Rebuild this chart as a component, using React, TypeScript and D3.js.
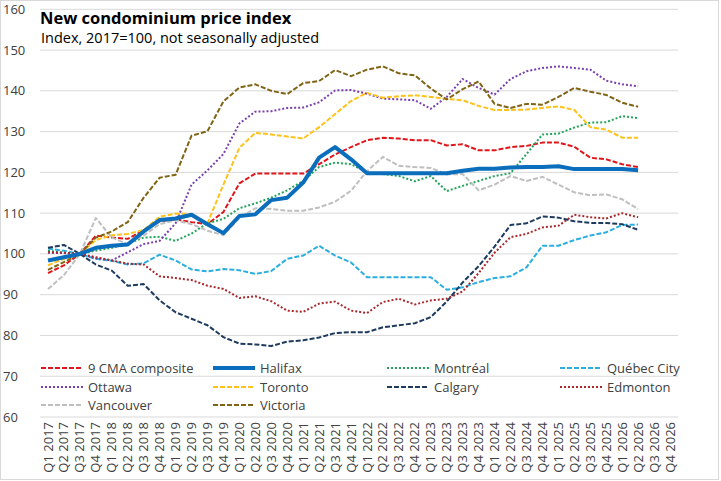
import * as d3 from 'd3';
import { useRef, useEffect } from 'react';

// Quarters on the category axis (data runs to Q2 2026)
const quarters = [
    'Q1 2017', 'Q2 2017', 'Q3 2017', 'Q4 2017',
    'Q1 2018', 'Q2 2018', 'Q3 2018', 'Q4 2018',
    'Q1 2019', 'Q2 2019', 'Q3 2019', 'Q4 2019',
    'Q1 2020', 'Q2 2020', 'Q3 2020', 'Q4 2020',
    'Q1 2021', 'Q2 2021', 'Q3 2021', 'Q4 2021',
    'Q1 2022', 'Q2 2022', 'Q3 2022', 'Q4 2022',
    'Q1 2023', 'Q2 2023', 'Q3 2023', 'Q4 2023',
    'Q1 2024', 'Q2 2024', 'Q3 2024', 'Q4 2024',
    'Q1 2025', 'Q2 2025', 'Q3 2025', 'Q4 2025',
    'Q1 2026', 'Q2 2026', 'Q3 2026', 'Q4 2026',
];

const yTicks = [60, 70, 80, 90, 100, 110, 120, 130, 140, 150, 160];

const composite = [95.3, 97.2, 100, 104.5, 104, 103.7, 105.8, 108, 108.5, 107.8, 107.3, 110.3, 117.3, 119.7, 119.7, 119.7, 119.7, 122, 124.4, 126.2, 127.9, 128.5, 128.3, 127.9, 127.9, 126.6, 126.9, 125.4, 125.4, 126.2, 126.5, 127.3, 127.3, 126.3, 123.6, 123.2, 122, 121.3];
const halifax = [98.4, 99.2, 100, 101.5, 102, 102.3, 105.5, 108.3, 108.7, 109.6, 107.3, 105.1, 109.3, 109.7, 113.2, 113.8, 117.5, 123.6, 126.2, 123.2, 119.8, 119.8, 119.8, 119.8, 119.8, 119.8, 120.4, 120.9, 120.9, 121.2, 121.3, 121.3, 121.5, 120.8, 120.8, 120.8, 120.8, 120.5];
const montreal = [100.8, 100.3, 100, 100.8, 101.5, 102.5, 104, 104.2, 103.2, 105, 107.5, 108.6, 111.2, 112.4, 113.8, 115.6, 117.9, 121.3, 122.4, 122, 120, 119.6, 119.1, 117.8, 119.1, 115.4, 116.7, 117.9, 119.1, 119.8, 124.5, 129.3, 129.5, 131, 132.2, 132.3, 133.8, 133.3];
const quebecCity = [101.3, 100.8, 100, 98.8, 98.3, 97.4, 97.7, 99.8, 98.4, 96.2, 95.7, 96.3, 96, 95.1, 95.8, 98.8, 99.6, 102, 99.6, 97.9, 94.3, 94.3, 94.3, 94.3, 94.3, 91.2, 91.8, 93.1, 94.1, 94.5, 96.7, 102, 102, 103.4, 104.5, 105.3, 107.1, 107.2];
const ottawa = [100.3, 100.2, 100, 98.9, 98.4, 100.4, 102.4, 103.2, 107.5, 117, 120.5, 124.5, 132, 134.9, 135, 135.8, 135.9, 137.2, 140.1, 140.2, 139.3, 138.1, 137.9, 137.7, 135.6, 138.5, 142.9, 140.7, 139.1, 142.9, 144.8, 145.6, 146, 145.6, 145.2, 142.5, 141.6, 141.1];
const toronto = [97.2, 98.8, 100, 103.4, 104.6, 104.9, 105.9, 109.1, 109.9, 109.8, 107.5, 117, 126, 129.7, 129.3, 128.8, 128.3, 131.1, 134.3, 137.5, 139.5, 138.3, 138.7, 138.9, 138.5, 138, 137.7, 136.3, 135.3, 135.3, 135.4, 135.8, 136.2, 135.3, 131.1, 130.5, 128.5, 128.5];
const calgary = [101.5, 102.2, 100, 97.4, 95.9, 92.2, 92.6, 88.6, 85.7, 84.1, 82.5, 79.6, 78, 77.8, 77.4, 78.5, 78.8, 79.5, 80.6, 80.8, 80.8, 82, 82.5, 83, 84.5, 88.3, 93, 97, 101.8, 107.1, 107.5, 109.2, 108.9, 108, 107.6, 107.6, 107.3, 105.9];
const edmonton = [100.4, 100.3, 100, 99.2, 98.4, 97.6, 97.4, 94.5, 94.1, 93.6, 92.2, 91.4, 89.2, 89.6, 88.4, 86.1, 85.8, 87.8, 88.3, 86.1, 85.5, 88.2, 89, 87.6, 88.6, 89, 90.8, 95.3, 100.3, 104.1, 104.9, 106.5, 106.9, 109.6, 109, 108.7, 110, 109];
const vancouver = [91.4, 94.8, 100, 108.8, 104, 102.4, 104.5, 107.3, 108.3, 107.3, 105.7, 104.6, 108.8, 111.2, 111, 110.6, 110.6, 111.4, 112.8, 115.5, 120.3, 123.8, 121.6, 121.3, 121.1, 119.5, 119.6, 115.6, 117, 119.1, 117.9, 118.9, 117, 115.1, 114.4, 114.6, 113.4, 111];
const victoria = [96.1, 98, 100, 104, 105.5, 107.8, 113.8, 118.7, 119.4, 129, 130.1, 137.4, 140.8, 141.6, 140, 139.2, 141.9, 142.4, 145.1, 143.6, 145.2, 146, 144.3, 143.8, 140.6, 137.9, 140.4, 142.3, 136.8, 135.8, 136.8, 136.6, 138.5, 140.7, 139.8, 139, 137.1, 136.1];

const DASH = '5,2';
const DOT = '2,2';

const series = [
    { name: '9 CMA composite', values: composite, color: '#E0161C', width: 2, dash: DASH },
    { name: 'Halifax', values: halifax, color: '#0A6EBD', width: 4, dash: null },
    { name: 'Montréal', values: montreal, color: '#22A35A', width: 2, dash: DOT },
    { name: 'Québec City', values: quebecCity, color: '#2BAEE0', width: 2, dash: DASH },
    { name: 'Ottawa', values: ottawa, color: '#7A3FAE', width: 2, dash: DOT },
    { name: 'Toronto', values: toronto, color: '#FFC21A', width: 2, dash: DASH },
    { name: 'Calgary', values: calgary, color: '#1E3A5F', width: 2, dash: DASH },
    { name: 'Edmonton', values: edmonton, color: '#A8282C', width: 2, dash: DOT },
    { name: 'Vancouver', values: vancouver, color: '#BFBFBF', width: 2, dash: DASH },
    { name: 'Victoria', values: victoria, color: '#806415', width: 2, dash: DASH },
];

const FONT = '"Open Sans", "Liberation Sans", sans-serif';

const CondoChart = () => {
    const svgRef = useRef<SVGSVGElement>(null);

    useEffect(() => {
        if (!svgRef.current) return;
        const svg = d3.select(svgRef.current);
        svg.selectAll('*').remove();

        const x = d3.scaleBand().domain(quarters).range([40, 678]);
        const xc = (q: string) => (x(q) || 0) + x.bandwidth() / 2;
        const y = d3.scaleLinear().domain([60, 160]).range([417, 9.3]);

        // chart frame
        svg.append('rect')
            .attr('x', 0.5).attr('y', 0.5)
            .attr('width', 718).attr('height', 479)
            .attr('fill', '#fff')
            .attr('stroke', '#D9D9D9');

        // gridlines + y labels
        svg.append('g')
            .selectAll('line')
            .data(yTicks)
            .enter()
            .append('line')
            .attr('x1', 40).attr('x2', 678)
            .attr('y1', d => y(d)).attr('y2', d => y(d))
            .attr('stroke', '#D9D9D9')
            .attr('stroke-width', 1);

        svg.append('g')
            .selectAll('text')
            .data(yTicks)
            .enter()
            .append('text')
            .attr('x', 3)
            .attr('y', d => y(d))
            .attr('dy', '0.35em')
            .attr('font-family', FONT)
            .attr('font-size', 13)
            .attr('fill', '#404040')
            .text(d => d);

        // x labels, rotated
        svg.append('g')
            .selectAll('text')
            .data(quarters)
            .enter()
            .append('text')
            .attr('transform', d => `translate(${xc(d)},422) rotate(-90)`)
            .attr('text-anchor', 'end')
            .attr('dy', '0.35em')
            .attr('font-family', FONT)
            .attr('font-size', 13)
            .attr('fill', '#404040')
            .text(d => d);

        // lines
        const line = d3.line<number>()
            .x((_, i) => xc(quarters[i]))
            .y(d => y(d));

        const drawOrder = [...series.filter(s => s.name !== 'Halifax'), ...series.filter(s => s.name === 'Halifax')];
        svg.append('g')
            .selectAll('path')
            .data(drawOrder)
            .enter()
            .append('path')
            .attr('d', d => line(d.values))
            .attr('fill', 'none')
            .attr('stroke', d => d.color)
            .attr('stroke-width', d => d.width)
            .attr('stroke-dasharray', d => d.dash)
            .attr('stroke-linejoin', 'round');

        // legend: 4 columns, 3 rows
        const legendX = [41, 213, 387, 560];
        const legendY = [368, 387, 405];
        const legend = svg.append('g')
            .selectAll('g')
            .data(series)
            .enter()
            .append('g')
            .attr('transform', (_, i) => `translate(${legendX[i % 4]},${legendY[Math.floor(i / 4)]})`);

        legend.append('line')
            .attr('x1', 0).attr('x2', 42)
            .attr('stroke', d => d.color)
            .attr('stroke-width', d => d.width)
            .attr('stroke-dasharray', d => d.dash);

        legend.append('text')
            .attr('x', 47)
            .attr('dy', '0.35em')
            .attr('font-family', FONT)
            .attr('font-size', 13)
            .attr('fill', '#404040')
            .text(d => d.name);

        // titles
        svg.append('text')
            .attr('x', 40).attr('y', 24)
            .attr('font-family', FONT)
            .attr('font-size', 16.5)
            .attr('font-weight', 'bold')
            .attr('fill', '#000')
            .text('New condominium price index');

        svg.append('text')
            .attr('x', 41).attr('y', 43)
            .attr('font-family', FONT)
            .attr('font-size', 14.5)
            .attr('fill', '#000')
            .text('Index, 2017=100, not seasonally adjusted');
    }, []);

    return <svg ref={svgRef} width={721} height={481} style={{ display: 'block' }} />;
};

export default function App() {
    return (
        <div style={{ position: 'absolute', left: 0, top: 0 }}>
            <CondoChart />
        </div>
    );
}
